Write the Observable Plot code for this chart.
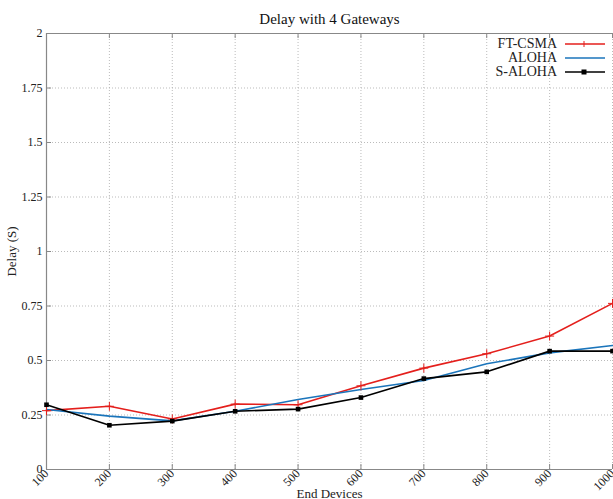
<!DOCTYPE html>
<html>
<head>
<meta charset="utf-8">
<script src="https://cdn.jsdelivr.net/npm/d3@7"></script>
<script src="https://cdn.jsdelivr.net/npm/@observablehq/plot@0.6"></script>
<style>
  body { margin: 0; background: #fff; }
  #wrap { position: relative; width: 613px; height: 499px; font-family: "Liberation Serif", serif; }
  #legend { position: absolute; right: 7px; top: 37px; font-size: 14px; color: #222; }
  #legend .row { display: flex; align-items: center; justify-content: flex-end; height: 14px; }
  #legend svg { margin-left: 7px; }
</style>
</head>
<body>
<div id="wrap"><div id="legend"></div></div>
<script>
const devices = [100, 200, 300, 400, 500, 600, 700, 800, 900, 1000];
const ftcsma = [0.27, 0.29, 0.232, 0.30, 0.297, 0.384, 0.465, 0.531, 0.612, 0.762];
const aloha  = [0.275, 0.245, 0.223, 0.267, 0.321, 0.367, 0.408, 0.485, 0.535, 0.569];
const saloha = [0.297, 0.203, 0.222, 0.267, 0.277, 0.330, 0.417, 0.448, 0.543, 0.543];
const yTicks = [0, 0.25, 0.5, 0.75, 1, 1.25, 1.5, 1.75, 2];
const seriesNames = ["FT-CSMA", "ALOHA", "S-ALOHA"];
const seriesColors = ["#e41f1c", "#1b75bb", "#000000"];

const rows = [];
[ftcsma, aloha, saloha].forEach((vals, k) => {
  vals.forEach((v, i) => rows.push({series: seriesNames[k], x: devices[i], y: v}));
});

const axisColor = "#888";
const plot = Plot.plot({
  width: 613,
  height: 499,
  marginTop: 33,
  marginLeft: 46,
  marginRight: 1,
  marginBottom: 30,
  style: {fontFamily: "Liberation Serif, serif", fontSize: "12px", color: "#222", background: "#fff"},
  x: {domain: [100, 1000]},
  y: {domain: [0, 2]},
  color: {domain: seriesNames, range: seriesColors},
  marks: [
    Plot.gridX(devices, {stroke: "#aaa", strokeOpacity: 0.8, strokeDasharray: "1,2"}),
    Plot.gridY(yTicks, {stroke: "#aaa", strokeOpacity: 0.8, strokeDasharray: "1,2"}),
    // border: top, bottom, left
    Plot.ruleY([0, 2], {stroke: axisColor, strokeWidth: 1.2}),
    Plot.ruleX([100], {stroke: axisColor, strokeWidth: 1.2}),
    // inward ticks
    Plot.ruleX(devices, {x: d => d, y1: 0, y2: 0, insetBottom: 5, stroke: axisColor}),
    Plot.ruleX(devices, {x: d => d, y1: 2, y2: 2, insetTop: 5, stroke: axisColor}),
    Plot.ruleY(yTicks, {y: d => d, x1: 100, x2: 100, insetLeft: 5, stroke: axisColor}),
    Plot.axisY({ticks: yTicks, tickFormat: d3.format("~g"), tickSize: 0, tickPadding: 4, fontSize: 12,
      label: "Delay (S)", labelAnchor: "center", labelArrow: "none", labelOffset: 40, fill: "#222"}),
    Plot.axisX({ticks: devices, tickFormat: d => String(d), tickSize: 0, tickRotate: -45, tickPadding: 2, fontSize: 12,
      label: "End Devices", labelAnchor: "center", labelArrow: "none", labelOffset: 28, fill: "#222"}),
    Plot.line(rows, {x: "x", y: "y", stroke: "series", strokeWidth: 1.6, z: "series"}),
    Plot.dot(rows.filter(d => d.series === "FT-CSMA"), {x: "x", y: "y", symbol: "plus", r: 3, stroke: seriesColors[0], strokeWidth: 1}),
    Plot.dot(rows.filter(d => d.series === "S-ALOHA"), {x: "x", y: "y", symbol: "square", r: 2.6, fill: seriesColors[2], stroke: "none"}),
    Plot.text(["Delay with 4 Gateways"], {frameAnchor: "top", dy: -20, fontSize: 15, fill: "#111"})
  ]
});
document.getElementById("wrap").prepend(plot);
// axis label sizes
plot.querySelectorAll("g[aria-label='x-axis label'] text, g[aria-label='y-axis label'] text").forEach(t => t.setAttribute("font-size", "13"));
plot.querySelectorAll("g[aria-label='x-axis label'], g[aria-label='y-axis label']").forEach(g => g.setAttribute("font-size", "13"));

const legend = document.getElementById("legend");
seriesNames.forEach((name, k) => {
  const row = document.createElement("div");
  row.className = "row";
  const marker = k === 0 ? `<line x1="20" x2="20" y1="4" y2="10" stroke="${seriesColors[k]}" stroke-width="1"/>`
               : k === 2 ? `<rect x="17.5" y="4.5" width="5" height="5" fill="#000"/>` : "";
  row.innerHTML = `<span>${name}</span><svg width="42" height="14"><line x1="1" x2="41" y1="7" y2="7" stroke="${seriesColors[k]}" stroke-width="1.6"/>${marker}</svg>`;
  legend.appendChild(row);
});
</script>
</body>
</html>
